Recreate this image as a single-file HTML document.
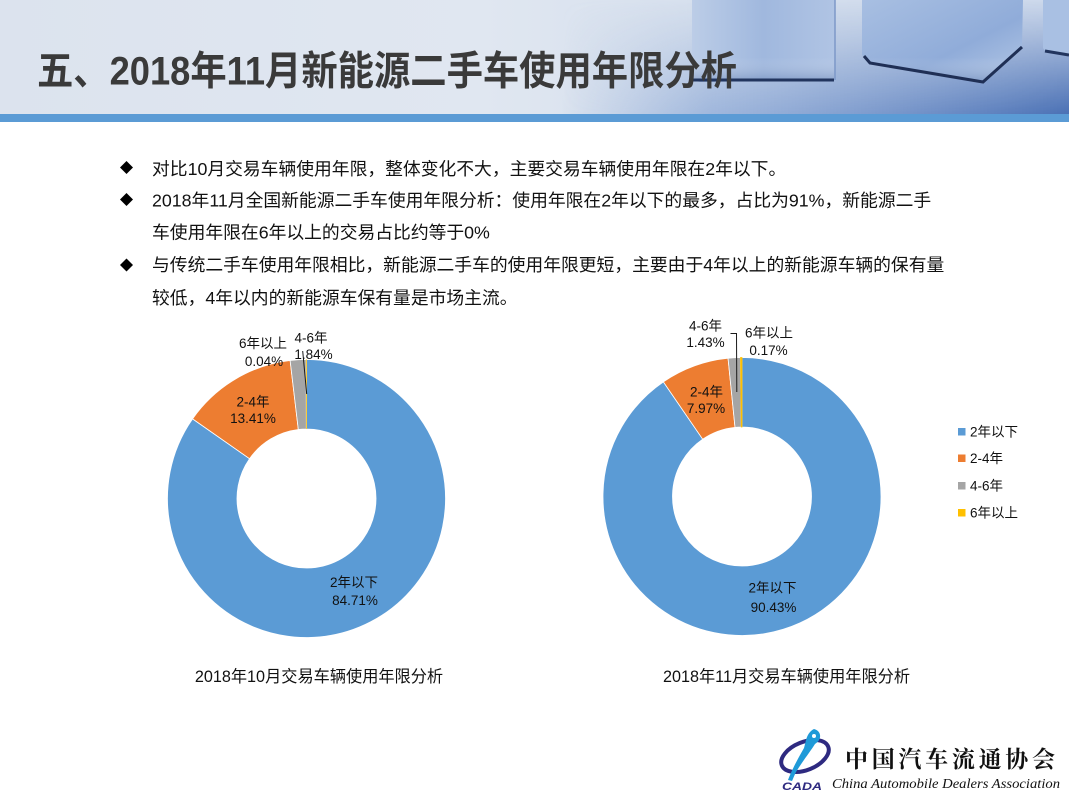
<!DOCTYPE html>
<html>
<head>
<meta charset="utf-8">
<style>
  html,body{margin:0;padding:0;background:#fff;}
  svg{display:block;}
</style>
</head>
<body>
<svg width="1069" height="801" viewBox="0 0 1069 801" xmlns="http://www.w3.org/2000/svg">
  <defs>
    <linearGradient id="hdr" x1="0" y1="0" x2="1" y2="0">
      <stop offset="0" stop-color="#dce3ee"/>
      <stop offset="0.45" stop-color="#e0e7f1"/>
      <stop offset="0.62" stop-color="#d8e1ee"/>
      <stop offset="1" stop-color="#cdd9ec"/>
    </linearGradient>
    <linearGradient id="floor" x1="0" y1="0" x2="1" y2="0">
      <stop offset="0" stop-color="#7b9bd0" stop-opacity="0"/>
      <stop offset="0.3" stop-color="#7b9bd0" stop-opacity="0.6"/>
      <stop offset="1" stop-color="#4a70b4" stop-opacity="1"/>
    </linearGradient>
    <linearGradient id="mv" x1="0" y1="0" x2="0" y2="1">
      <stop offset="0" stop-color="#000"/>
      <stop offset="0.35" stop-color="#555"/>
      <stop offset="1" stop-color="#fff"/>
    </linearGradient>
    <mask id="fm" maskUnits="userSpaceOnUse" x="0" y="0" width="1069" height="114">
      <rect x="0" y="0" width="1069" height="114" fill="url(#mv)"/>
    </mask>
    <linearGradient id="box1" x1="0" y1="0" x2="1" y2="0">
      <stop offset="0" stop-color="#bccde7"/>
      <stop offset="0.5" stop-color="#a0b8de"/>
      <stop offset="1" stop-color="#b0c4e4"/>
    </linearGradient>
    <linearGradient id="box2" x1="0" y1="0" x2="1" y2="1">
      <stop offset="0" stop-color="#a8bfe2"/>
      <stop offset="0.6" stop-color="#90acd9"/>
      <stop offset="1" stop-color="#b4c8e6"/>
    </linearGradient>
    <linearGradient id="shade" x1="0" y1="0" x2="0" y2="1">
      <stop offset="0" stop-color="#ffffff" stop-opacity="0"/>
      <stop offset="0.7" stop-color="#ffffff" stop-opacity="0"/>
      <stop offset="1" stop-color="#3a5a95" stop-opacity="0.35"/>
    </linearGradient>
  </defs>

  <!-- Header background -->
  <rect x="0" y="0" width="1069" height="114" fill="url(#hdr)"/>
  <rect x="560" y="0" width="509" height="114" fill="url(#floor)" mask="url(#fm)"/>

  <!-- Box 1 -->
  <polygon points="692,0 835,0 834,80 700,82 692,80" fill="url(#box1)"/>
  <polygon points="692,0 835,0 834,80 700,82 692,80" fill="url(#shade)"/>
  <path d="M692,80 L834,80" stroke="#22355e" stroke-width="3" fill="none"/>
  <path d="M835,0 L835,80" stroke="#7d98c8" stroke-width="1.5" fill="none"/>

  <!-- Box 2 -->
  <polygon points="862,0 1023,0 1022,47 983,82 870,63 862,55" fill="url(#box2)"/>
  <polygon points="862,0 1023,0 1022,47 983,82 870,63 862,55" fill="url(#shade)"/>
  <path d="M864,56 L870,63 L983,82 L1022,47" stroke="#1f2f55" stroke-width="3" fill="none"/>

  <!-- Box 3 -->
  <polygon points="1043,0 1069,0 1069,55 1046,52 1043,48" fill="#a9c0e3"/>
  <path d="M1045,51 L1069,55" stroke="#22355e" stroke-width="3" fill="none"/>

  <!-- Blue stripe -->
  <rect x="0" y="114" width="1069" height="8" fill="#5b9bd5"/>

  <!-- Title -->
  <text x="37" y="84.5" font-family="'Liberation Sans','Noto Sans CJK SC',sans-serif" font-weight="700" font-size="40" fill="#3a3a3a" textLength="700" lengthAdjust="spacingAndGlyphs">五、2018年11月新能源二手车使用年限分析</text>

  <!-- Bullets -->
  <g fill="#000">
    <polygon points="126.5,161 133,167.5 126.5,174 120,167.5"/>
    <polygon points="126.5,193 133,199.5 126.5,206 120,199.5"/>
    <polygon points="126.5,258.5 133,265 126.5,271.5 120,265"/>
  </g>
  <g font-family="'Liberation Sans','Noto Sans CJK SC',sans-serif" font-size="17.8" fill="#111">
    <text x="152" y="175">对比10月交易车辆使用年限，整体变化不大，主要交易车辆使用年限在2年以下。</text>
    <text x="152" y="206.5">2018年11月全国新能源二手车使用年限分析：使用年限在2年以下的最多，占比为91%，新能源二手</text>
    <text x="152" y="238.5">车使用年限在6年以上的交易占比约等于0%</text>
    <text x="152" y="271">与传统二手车使用年限相比，新能源二手车的使用年限更短，主要由于4年以上的新能源车辆的保有量</text>
    <text x="152" y="304">较低，4年以内的新能源车保有量是市场主流。</text>
  </g>

  <!-- Left donut -->
  <g stroke="#ffffff" stroke-width="0.8">
    <path d="M306.5 359.5 A139 139 0 1 1 192.58 418.86 L249.54 458.68 A69.5 69.5 0 1 0 306.5 429 Z" fill="#5b9bd5"/>
    <path d="M192.58 418.86 A139 139 0 0 1 290.12 360.47 L298.31 429.48 A69.5 69.5 0 0 0 249.54 458.68 Z" fill="#ed7d31"/>
    <path d="M290.12 360.47 A139 139 0 0 1 306.15 359.5 L306.33 429 A69.5 69.5 0 0 0 298.31 429.48 Z" fill="#a5a5a5"/>
  </g>
  <path d="M306.15 359.5 A139 139 0 0 1 306.5 359.5 L306.5 429 A69.5 69.5 0 0 0 306.33 429 Z" fill="#ffc000" stroke="#ffc000" stroke-width="0.5"/>
  <line x1="302.7" y1="351" x2="306.7" y2="394" stroke="#1a1a1a" stroke-width="1"/>

  <!-- Right donut -->
  <g stroke="#ffffff" stroke-width="0.8">
    <path d="M742 357.5 A139 139 0 1 1 663.36 381.88 L702.68 439.19 A69.5 69.5 0 1 0 742 427 Z" fill="#5b9bd5"/>
    <path d="M663.36 381.88 A139 139 0 0 1 728.05 358.2 L735.02 427.35 A69.5 69.5 0 0 0 702.68 439.19 Z" fill="#ed7d31"/>
    <path d="M728.05 358.2 A139 139 0 0 1 740.52 357.51 L741.26 427 A69.5 69.5 0 0 0 735.02 427.35 Z" fill="#a5a5a5"/>
  </g>
  <path d="M740.52 357.51 A139 139 0 0 1 742 357.5 L742 427 A69.5 69.5 0 0 0 741.26 427 Z" fill="#ffc000" stroke="#ffc000" stroke-width="0.8"/>
  <path d="M730.5 333.5 L736.5 333.5 L736.8 392" stroke="#1a1a1a" stroke-width="1" fill="none"/>

  <!-- Pie labels -->
  <g font-family="'Liberation Sans','Noto Sans CJK SC',sans-serif" font-size="13.5" fill="#111" text-anchor="middle">
    <text x="263" y="348">6年以上</text>
    <text x="264" y="366">0.04%</text>
    <text x="311" y="342.5">4-6年</text>
    <text x="313.5" y="359">1.84%</text>
    <text x="253" y="406.5">2-4年</text>
    <text x="253" y="423">13.41%</text>
    <text x="354" y="587">2年以下</text>
    <text x="355" y="605">84.71%</text>

    <text x="705.5" y="330.5">4-6年</text>
    <text x="705.5" y="347">1.43%</text>
    <text x="769" y="337.5">6年以上</text>
    <text x="768.5" y="355">0.17%</text>
    <text x="706.5" y="396.5">2-4年</text>
    <text x="706" y="413">7.97%</text>
    <text x="772.5" y="592.5">2年以下</text>
    <text x="773.5" y="612">90.43%</text>
  </g>

  <!-- Chart titles -->
  <g font-family="'Liberation Sans','Noto Sans CJK SC',sans-serif" font-size="16.2" fill="#111" text-anchor="middle">
    <text x="319" y="682">2018年10月交易车辆使用年限分析</text>
    <text x="786.5" y="682">2018年11月交易车辆使用年限分析</text>
  </g>

  <!-- Legend -->
  <rect x="958" y="428" width="7.5" height="7.5" fill="#5b9bd5"/>
  <rect x="958" y="454.5" width="7.5" height="7.5" fill="#ed7d31"/>
  <rect x="958" y="482" width="7.5" height="7.5" fill="#a5a5a5"/>
  <rect x="958" y="509" width="7.5" height="7.5" fill="#ffc000"/>
  <g font-family="'Liberation Sans','Noto Sans CJK SC',sans-serif" font-size="13.5" fill="#111">
    <text x="970" y="436.7">2年以下</text>
    <text x="970" y="463">2-4年</text>
    <text x="970" y="490.5">4-6年</text>
    <text x="970" y="517.5">6年以上</text>
  </g>

  <!-- Logo -->
  <g>
    <ellipse cx="805" cy="756" rx="25" ry="14" transform="rotate(-22 805 756)" fill="none" stroke="#2e2a80" stroke-width="4"/>
    <path d="M814,729 C822,731 822,740 815,744 C810,752 802,762 796,772 C794,776 793,779 792,781 L788,780 C791,772 797,760 804,748 C806,742 806,733 814,729 Z" fill="#1f9ad8"/>
    <circle cx="814" cy="736" r="2" fill="#ffffff"/>
    <text x="782" y="790" font-family="'Liberation Sans',sans-serif" font-style="italic" font-weight="700" font-size="11" fill="#2e2a80" textLength="40" lengthAdjust="spacingAndGlyphs">CADA</text>
  </g>
  <text x="845" y="767" font-family="'Noto Serif CJK SC','WenQuanYi Zen Hei',serif" font-weight="700" font-size="23" fill="#111" textLength="210" lengthAdjust="spacing">中国汽车流通协会</text>
  <text x="832" y="788" font-family="'Liberation Serif',serif" font-style="italic" font-size="14" fill="#111" textLength="228" lengthAdjust="spacingAndGlyphs">China Automobile Dealers Association</text>
</svg>
</body>
</html>
